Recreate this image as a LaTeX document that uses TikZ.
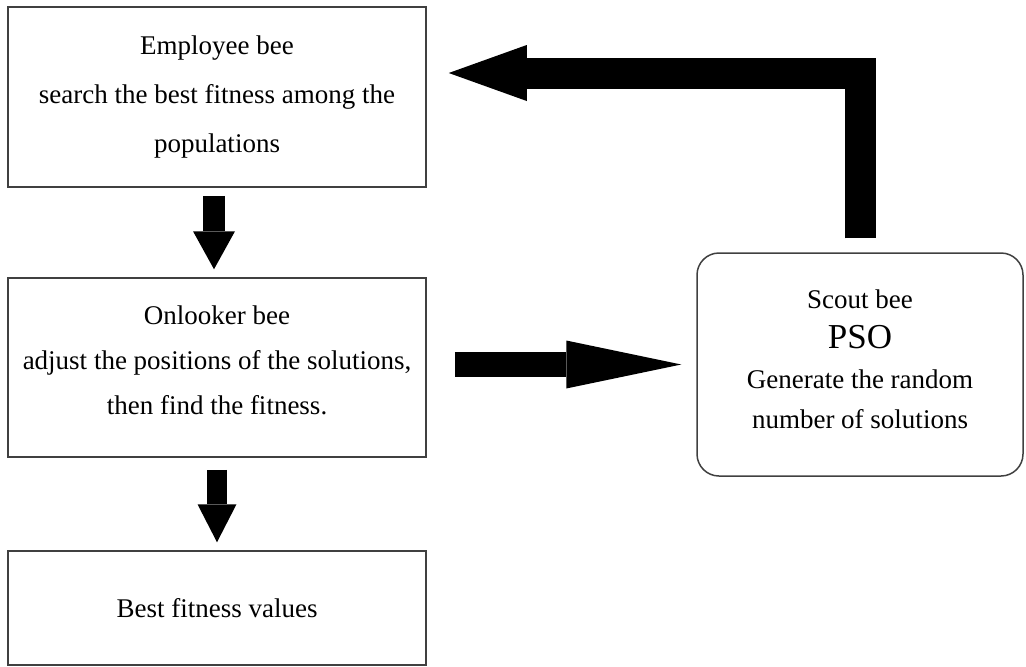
\documentclass[tikz,border=0pt]{standalone}
\usepackage{fontspec}
\setmainfont{Liberation Serif}
\usetikzlibrary{arrows.meta,positioning}

\begin{document}
\begin{tikzpicture}[x=1pt,y=-1pt,
  box/.style={draw=black!75,line width=1.5pt,minimum width=418pt,align=center,inner sep=0pt},
  blk/.style={draw=black,line width=#1,line join=miter}]
\useasboundingbox (0,0) rectangle (1026,667);

% left column
\node[box,minimum height=180pt,font=\fontsize{27}{49}\selectfont] (emp) at (217,97) {Employee bee\\search the best fitness among the\\populations};
\node[box,minimum height=179pt,text depth=14pt,font=\fontsize{27}{45}\selectfont] (onl) at (217,367.5) {Onlooker bee\\adjust the positions of the solutions,\\then find the fitness.};
\node[box,minimum height=114pt,font=\fontsize{27}{45}\selectfont] (best) at (217,608) {Best fitness values};

% scout box
\node[box,minimum width=326pt,minimum height=223pt,rounded corners=22pt,text depth=10pt,font=\fontsize{27}{40}\selectfont] (scout) at (860,364.5) {Scout bee\\{\fontsize{35}{40}\selectfont PSO}\\Generate the random\\number of solutions};

% block arrows
\draw[blk=22pt,-{Triangle[length=38pt,width=42pt,line width=0pt]}] ([xshift=-3pt,yshift=-8pt]emp.south) -- ([xshift=-3pt,yshift=8pt]onl.north);
\draw[blk=20pt,-{Triangle[length=38pt,width=39pt,line width=0pt]}] ([yshift=-12pt]onl.south) -- ([yshift=8pt]best.north);
\draw[blk=25pt,-{Triangle[length=115pt,width=48pt,line width=0pt]}] ([xshift=28pt,yshift=3pt]onl.east) -- ([xshift=-15pt]scout.west);
\draw[blk=31pt,-{Triangle[length=78pt,width=56pt,line width=0pt]}] ([yshift=14pt]scout.north) |- ([xshift=22pt,yshift=24pt]emp.east);
\end{tikzpicture}
\end{document}
